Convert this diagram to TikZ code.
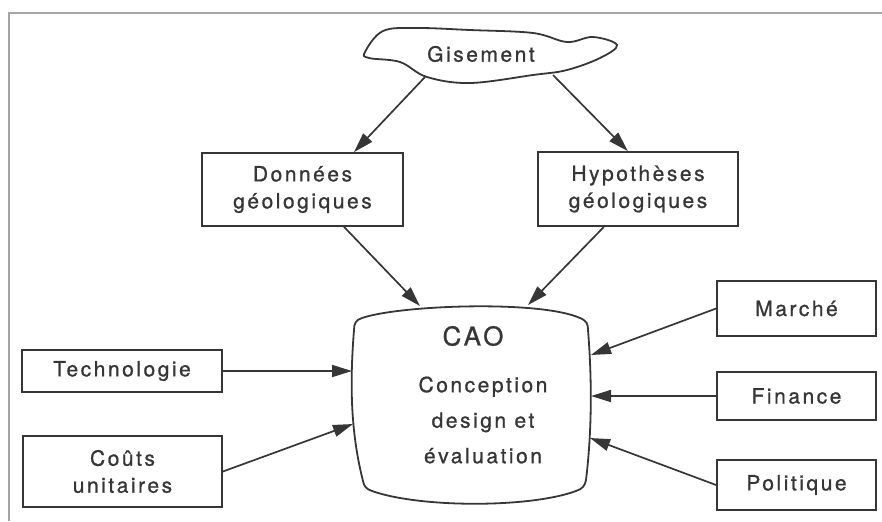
\documentclass[tikz,border=0pt]{standalone}
\usepackage{fontspec}
\setmainfont{TeX Gyre Heros}[LetterSpace=12,FakeBold=0.9]
\usetikzlibrary{arrows.meta}
\definecolor{encre}{HTML}{363636}
\definecolor{cadre}{HTML}{A5A5A5}
\begin{document}
\begin{tikzpicture}[x=0.5pt,y=-0.5pt,
  boite/.style={draw=encre, line width=0.9pt, text=encre, align=center, inner sep=0pt,
    font=\fontsize{10.5}{13.5}\selectfont},
  fleche/.style={draw=encre, line width=0.85pt, -{Triangle[length=10pt,width=6pt]}}]
\useasboundingbox (0,0) rectangle (882,521);
% cadre
\draw[cadre, line width=1pt] (9,521) -- (9,13) -- (882,13);

% gisement
\draw[encre, line width=0.9pt] plot[smooth cycle, tension=0.6] coordinates {
  (365,52) (383,31) (417,28) (470,30) (533,33) (567,42) (593,37) (617,45)
  (600,58) (567,70) (533,75) (470,83) (427,77) (400,62) (369,58)};
\node[text=encre, font=\fontsize{10.5}{13.5}\selectfont] (gis) at (481,54) {Gisement};
\coordinate (gisL) at (425,77);
\coordinate (gisR) at (553,75);

% boites
\node[boite, minimum width=100.5pt, minimum height=36.5pt] (don) at (302.5,189.5) {Données\\géologiques};
\node[boite, minimum width=100pt, minimum height=37pt] (hyp) at (638,189) {Hypothèses\\géologiques};
\node[boite, minimum width=100pt, minimum height=21pt] (tech) at (122,371) {Technologie};
\node[boite, minimum width=99.5pt, minimum height=35.5pt] (cout) at (122.5,471.5) {Coûts\\unitaires};
\node[boite, minimum width=79.5pt, minimum height=27.5pt] (mar) at (796.5,308.5) {Marché};
\node[boite, minimum width=79.5pt, minimum height=24pt] (fin) at (796.5,396) {Finance};
\node[boite, minimum width=79.5pt, minimum height=25pt] (pol) at (796.5,485) {Politique};

% CAO
\draw[encre, line width=0.9pt] (362,318) .. controls (400,305) and (540,300) .. (580,318)
  .. controls (587,321) and (588,324) .. (588,330)
  .. controls (592,380) and (592,430) .. (586,480)
  .. controls (585,486) and (582,489) .. (576,491)
  .. controls (530,508) and (420,508) .. (372,491)
  .. controls (366,489) and (364,486) .. (363,481)
  .. controls (350,430) and (350,380) .. (354,330)
  .. controls (354,323) and (356,320) .. (362,318) -- cycle;
\node[text=encre, font=\fontsize{13}{15}\selectfont] (cao) at (473,336) {CAO};
\node[text=encre, align=center, font=\fontsize{10.5}{17.75}\selectfont] (caotxt) at (483,420)
  {Conception\\design et\\évaluation};
\coordinate (caoA) at (420,306);
\coordinate (caoB) at (528,305);
\coordinate (caoC) at (352,371);
\coordinate (caoD) at (353,424);
\coordinate (caoE) at (591,355);
\coordinate (caoF) at (591,396);
\coordinate (caoG) at (590,438);

% fleches
\draw[fleche] (gisL) -- (don.36.6);
\draw[fleche] (gisR) -- (hyp.105);
\draw[fleche] (don.-42) -- (caoA);
\draw[fleche] (hyp.-132.6) -- (caoB);
\draw[fleche] (tech.east) -- (caoC);
\draw[fleche] (cout.east) -- (caoD);
\draw[fleche] (mar.west) -- (caoE);
\draw[fleche] (fin.west) -- (caoF);
\draw[fleche] (pol.west) -- (caoG);

\end{tikzpicture}
\end{document}
